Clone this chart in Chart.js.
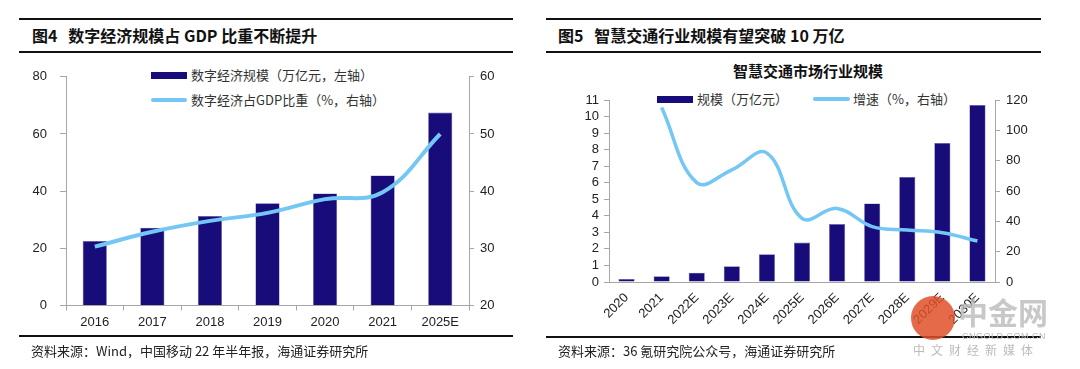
<!DOCTYPE html>
<html>
<head>
<meta charset="utf-8">
<script src="https://cdn.jsdelivr.net/npm/chart.js@4"></script>
<style>
  body { margin: 0; width: 1080px; height: 369px; background: #fff; position: relative; overflow: hidden;
         font-family: "Liberation Sans", Arial, "Noto Sans CJK SC", sans-serif; color: #222; }
  .abs { position: absolute; }
  .rule { position: absolute; height: 2px; background: #111; }
  .title { position: absolute; font-family: "Noto Sans CJK SC", sans-serif; font-weight: bold; font-size: 16px; line-height: 20px; color: #111; white-space: nowrap; }
  .src { position: absolute; font-family: "Noto Sans CJK SC", sans-serif; font-size: 13px; line-height: 16px; color: #222; white-space: nowrap; }
  .lg { position: absolute; font-family: "Noto Sans CJK SC", sans-serif; font-size: 13px; line-height: 16px; color: #333; white-space: nowrap; }
  .sw-bar { position: absolute; height: 7px; background: #170c79; }
  .sw-line { position: absolute; height: 4px; border-radius: 2px; background: #74c7f4; }
  canvas { position: absolute; }
</style>
</head>
<body>
<!-- left panel -->
<div class="rule" style="left:19px;top:18px;width:494px;"></div>
<div class="title" style="left:32px;top:25px;">图4&nbsp;&nbsp;&nbsp;数字经济规模占 GDP 比重不断提升</div>
<div class="rule" style="left:19px;top:51px;width:494px;"></div>
<div class="sw-bar" style="left:151px;top:72px;width:36px;"></div>
<div class="lg" style="left:191px;top:67px;">数字经济规模（万亿元，左轴）</div>
<div class="sw-line" style="left:151px;top:98px;width:36px;"></div>
<div class="lg" style="left:191px;top:92px;">数字经济占GDP比重（%，右轴）</div>
<canvas id="c1" width="520" height="280" style="left:0;top:56px;"></canvas>
<div class="rule" style="left:19px;top:335px;width:494px;"></div>
<div class="src" style="left:31px;top:343px;">资料来源：Wind，中国移动 22 年半年报，海通证券研究所</div>

<!-- right panel -->
<div class="rule" style="left:546px;top:18px;width:495px;"></div>
<div class="title" style="left:558px;top:25px;">图5&nbsp;&nbsp;&nbsp;智慧交通行业规模有望突破 10 万亿</div>
<div class="rule" style="left:546px;top:51px;width:495px;"></div>
<div class="title" style="left:733px;top:61px;font-size:15px;">智慧交通市场行业规模</div>
<div class="sw-bar" style="left:657px;top:96px;width:36px;"></div>
<div class="lg" style="left:697px;top:91px;">规模（万亿元）</div>
<div class="sw-line" style="left:813px;top:97px;width:37px;"></div>
<div class="lg" style="left:853px;top:91px;">增速（%，右轴）</div>
<canvas id="c2" width="500" height="255" style="left:540px;top:80px;"></canvas>
<div class="rule" style="left:546px;top:336px;width:495px;"></div>
<div class="src" style="left:558px;top:343px;">资料来源：36 氪研究院公众号，海通证券研究所</div>

<!-- watermark -->
<div class="abs" style="left:911px;top:296px;width:44px;height:44px;border-radius:50%;background:#e0502a;opacity:0.85;"></div>
<div class="abs" style="left:958px;top:294px;font-family:'Noto Sans CJK SC';font-weight:bold;font-size:30px;line-height:34px;color:#bbb;opacity:0.8;">中金网</div>
<div class="abs" style="left:962px;top:331px;font-size:9px;line-height:10px;color:#bbb;letter-spacing:0.5px;">CNGOLD.COM.CN</div>
<div class="abs" style="left:913px;top:343px;font-family:'Noto Sans CJK SC';font-size:12px;line-height:14px;color:#bbb;letter-spacing:6px;">中文财经新媒体</div>

<script>
// figure 4 data
const years4 = ['2016', '2017', '2018', '2019', '2020', '2021', '2025E'];
const digitalScale = [22.6, 27.2, 31.3, 35.8, 39.2, 45.5, 67.5];
const digitalShare = [30.3, 32.9, 34.8, 36.2, 38.6, 39.8, 50.0];

// figure 5 data
const years5 = ['2020', '2021', '2022E', '2023E', '2024E', '2025E', '2026E', '2027E', '2028E', '2029E', '2030E'];
const trafficScale = [0.18, 0.34, 0.56, 0.95, 1.67, 2.38, 3.5, 4.75, 6.35, 8.4, 10.7];
const trafficGrowth = [null, 115, 65.5, 74, 85, 42, 48.5, 36.5, 34.3, 32.5, 27];

const BAR = '#170c79';
const LINE = '#74c7f4';
const AXIS = '#a6a6a6';
const tickFont = { family: '"Liberation Sans", Arial, sans-serif', size: 13 };

function axisGrid(len) {
  return { display: true, drawOnChartArea: false, drawTicks: true, tickLength: len, color: AXIS };
}
function fixWidth(w) { return s => { s.width = w; }; }
function fixHeight(h) { return s => { s.height = h; }; }

new Chart(document.getElementById('c1'), {
  data: {
    labels: years4,
    datasets: [
      { type: 'line', data: digitalShare, yAxisID: 'y1', borderColor: LINE, borderWidth: 4,
        pointRadius: 0, tension: 0.4, order: 0 },
      { type: 'bar', data: digitalScale, yAxisID: 'y', backgroundColor: BAR, borderColor: '#6a64a8', borderWidth: 0.6,
        categoryPercentage: 1, barPercentage: 0.42, order: 1 }
    ]
  },
  options: {
    responsive: false, devicePixelRatio: 1, animation: false,
    layout: { padding: { top: 20, left: 0, right: 0, bottom: 0 } },
    plugins: { legend: { display: false }, tooltip: { enabled: false } },
    scales: {
      x: {
        grid: { ...axisGrid(5), offset: true }, border: { color: AXIS },
        ticks: { color: '#222', font: tickFont, padding: 4, maxRotation: 0 },
        afterFit: fixHeight(30.5)
      },
      y: {
        position: 'left', min: 0, max: 80,
        grid: axisGrid(6), border: { color: AXIS },
        ticks: { stepSize: 20, color: '#222', font: tickFont, padding: 13 },
        afterFit: fixWidth(66)
      },
      y1: {
        position: 'right', min: 20, max: 60,
        grid: axisGrid(5), border: { color: AXIS },
        ticks: { stepSize: 10, color: '#222', font: tickFont, padding: 6 },
        afterFit: fixWidth(51)
      }
    }
  }
});

new Chart(document.getElementById('c2'), {
  data: {
    labels: years5,
    datasets: [
      { type: 'line', data: trafficGrowth, yAxisID: 'y1', borderColor: LINE, borderWidth: 3.5,
        pointRadius: 0, tension: 0.4, order: 0 },
      { type: 'bar', data: trafficScale, yAxisID: 'y', backgroundColor: BAR, borderColor: '#6a64a8', borderWidth: 0.6,
        categoryPercentage: 1, barPercentage: 0.46, order: 1 }
    ]
  },
  options: {
    responsive: false, devicePixelRatio: 1, animation: false,
    layout: { padding: { top: 20, left: 0, right: 0, bottom: 0 } },
    plugins: { legend: { display: false }, tooltip: { enabled: false } },
    scales: {
      x: {
        grid: { display: true, drawOnChartArea: false, drawTicks: false, color: AXIS }, border: { color: AXIS },
        ticks: { color: '#222', font: tickFont, padding: 8, minRotation: 45, maxRotation: 45, autoSkip: false },
        afterFit: fixHeight(53)
      },
      y: {
        position: 'left', min: 0, max: 11,
        grid: axisGrid(5), border: { color: AXIS },
        ticks: { stepSize: 1, color: '#222', font: tickFont, padding: 5, autoSkip: false },
        afterFit: fixWidth(69)
      },
      y1: {
        position: 'right', min: 0, max: 120,
        grid: axisGrid(5), border: { color: AXIS },
        ticks: { stepSize: 20, color: '#222', font: tickFont, padding: 6, autoSkip: false },
        afterFit: fixWidth(45)
      }
    }
  }
});
</script>
</body>
</html>
